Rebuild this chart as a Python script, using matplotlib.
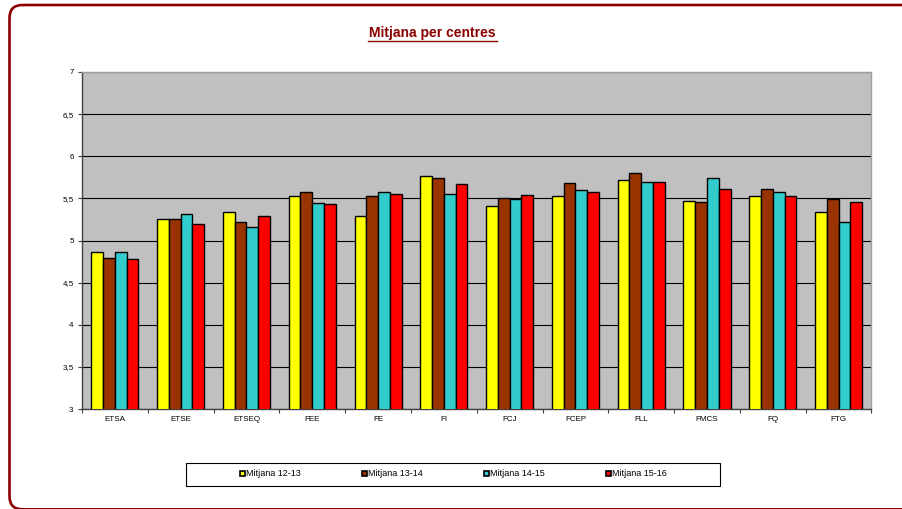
import matplotlib
matplotlib.use("Agg")
import matplotlib.pyplot as plt
import numpy as np
from matplotlib.patches import FancyBboxPatch, Rectangle
from matplotlib.transforms import IdentityTransform

plt.rcParams['font.family'] = ['Liberation Sans', 'DejaVu Sans']

centres = ["ETSA", "ETSE", "ETSEQ", "FEE", "FE", "FI", "FCJ", "FCEP", "FLL", "FMCS", "FQ", "FTG"]
series_names = ["Mitjana 12-13", "Mitjana 13-14", "Mitjana 14-15", "Mitjana 15-16"]
m1213 = [4.86, 5.26, 5.34, 5.53, 5.29, 5.76, 5.41, 5.53, 5.72, 5.47, 5.53, 5.34]
m1314 = [4.79, 5.25, 5.22, 5.57, 5.53, 5.74, 5.51, 5.68, 5.80, 5.46, 5.61, 5.49]
m1415 = [4.86, 5.31, 5.16, 5.44, 5.57, 5.55, 5.49, 5.60, 5.69, 5.74, 5.57, 5.22]
m1516 = [4.78, 5.20, 5.29, 5.43, 5.55, 5.67, 5.54, 5.57, 5.69, 5.61, 5.53, 5.46]
yticks = [3, 3.5, 4, 4.5, 5, 5.5, 6, 6.5, 7]
ytick_labels = ["3", "3,5", "4", "4,5", "5", "5,5", "6", "6,5", "7"]

series = [m1213, m1314, m1415, m1516]
colors = ["#FFFF00", "#993300", "#33CCCC", "#FF0000"]

W, H = 903, 509
fig = plt.figure(figsize=(W / 100, H / 100), dpi=100)
fig.patch.set_facecolor("white")

# rounded outer border (pixel coordinates, origin bottom-left)
bx0, bx1 = 9.5, 918
by_top, by_bot = 5.0, 509.3
border = FancyBboxPatch((bx0, H - by_bot), bx1 - bx0, by_bot - by_top,
                        boxstyle="round,pad=0,rounding_size=13",
                        transform=IdentityTransform(), fill=False, edgecolor="#8B0000",
                        linewidth=1.9)
fig.patches.append(border)

left, right, top, bottom = 82, 871.5, 72, 409
ax = fig.add_axes([left / W, 1 - bottom / H, (right - left) / W, (bottom - top) / H])
ax.set_facecolor("#C0C0C0")

x = np.arange(len(centres))
bw = 0.179
for i, (vals, c) in enumerate(zip(series, colors)):
    ax.bar(x + (i - 1.5) * bw, vals, width=bw, color=c, edgecolor="black", linewidth=1.0,
           label=series_names[i], zorder=3)

ax.set_ylim(3, 7)
ax.set_xlim(-0.5, len(centres) - 0.5)
ax.set_yticks(yticks)
ax.set_yticklabels(ytick_labels, fontsize=5.8)
ax.yaxis.grid(True, color="black", linewidth=0.8, zorder=1)
ax.set_axisbelow(True)
ax.set_xticks(x)
ax.set_xticklabels(centres, fontsize=5.8)
ax.tick_params(axis="x", length=0, pad=5)
ax.set_xticks(np.arange(-0.5, len(centres) + 0.5, 1), minor=True)
ax.tick_params(axis="x", which="minor", length=3, width=0.8, color="#404040")
ax.tick_params(axis="y", length=3, width=0.8, pad=3, color="#404040")
for s in ["left", "bottom"]:
    ax.spines[s].set_color("#404040")
    ax.spines[s].set_linewidth(1.0)
for s in ["top", "right"]:
    ax.spines[s].set_color("#A0A0A0")
    ax.spines[s].set_linewidth(1.0)

# title
fig.text(432 / W, 1 - 33 / H, "Mitjana per centres", ha="center", va="center",
         fontsize=10, fontweight="bold", color="#8B0000")
fig.add_artist(plt.Line2D([368 / W, 497 / W], [1 - 40.5 / H, 1 - 40.5 / H], transform=fig.transFigure,
                          color="#8B0000", linewidth=1.0))

# legend frame drawn separately
lx0, lx1, ly0, ly1 = 186.5, 720, 462.5, 485.5
fig.patches.append(Rectangle((lx0 / W, 1 - ly1 / H), (lx1 - lx0) / W, (ly1 - ly0) / H,
                             transform=fig.transFigure, fill=True, facecolor="white",
                             edgecolor="black", linewidth=0.8))
leg = fig.legend(loc="center", bbox_to_anchor=((lx0 + lx1) / 2 / W, 1 - (ly0 + ly1) / 2 / H),
                 ncol=4, fontsize=6.5, frameon=False,
                 handlelength=0.55, handleheight=0.55, handletextpad=0.1, columnspacing=6.8)
for h in leg.legend_handles:
    h.set_linewidth(1.2)

fig.savefig("out.png", dpi=100, facecolor="white")
